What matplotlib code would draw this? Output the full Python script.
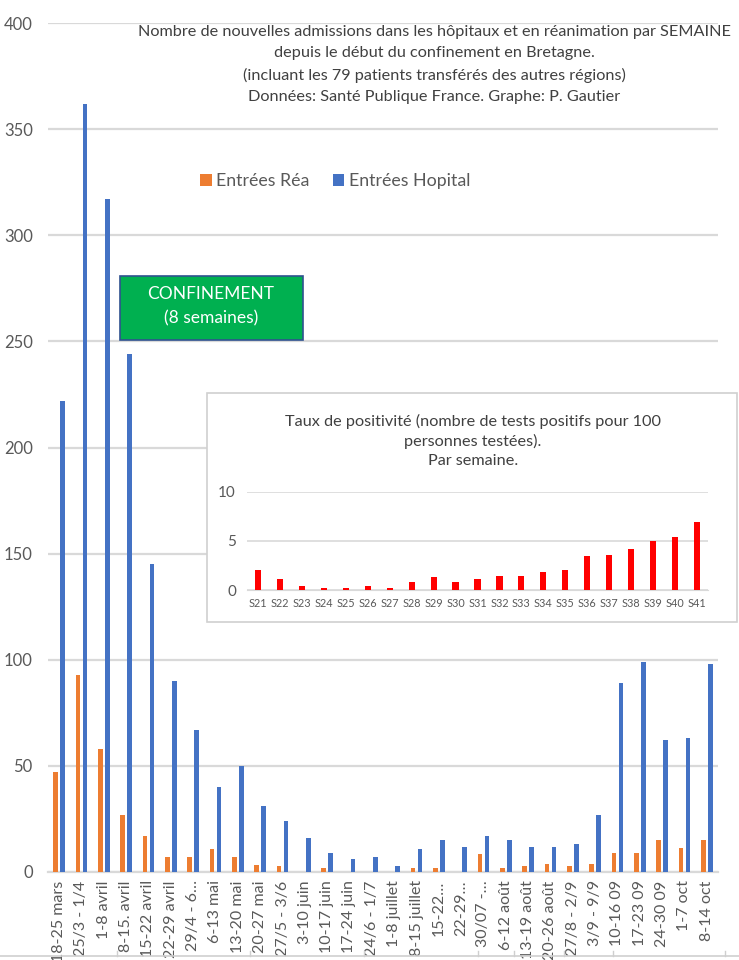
import matplotlib
matplotlib.use("Agg")
import matplotlib.pyplot as plt
import matplotlib.patches as mpatches
import numpy as np

plt.rcParams['font.family'] = ['Lato', 'DejaVu Sans']

# ---------------- data ----------------
weeks = ["18-25 mars", "25/3 - 1/4", "1-8 avril", "8-15. avril", "15-22 avril",
         "22-29 avril", "29/4 - 6…", "6-13 mai", "13-20 mai", "20-27 mai",
         "27/5 - 3/6", "3-10 juin", "10-17 juin", "17-24 juin", "24/6 - 1/7",
         "1-8 juillet", "8-15 juillet", "15-22…", "22-29…", "30/07 -…",
         "6-12 août", "13-19 août", "20-26 août", "27/8 - 2/9", "3/9 - 9/9",
         "10-16 09", "17-23 09", "24-30 09", "1-7 oct", "8-14 oct"]
rea = [47, 93, 58, 27, 17, 7, 7, 11, 7, 3.5,
       2.7, 0, 2, 0, 0, 0, 2, 2, 0, 8.5,
       2, 3, 3.6, 3, 3.6, 9, 9, 15, 11.5, 15]
hopital = [222, 362, 317, 244, 145, 90, 67, 40, 50, 31,
           24, 16, 9, 6, 7, 3, 11, 15, 12, 17,
           15, 12, 12, 13, 27, 89, 99, 62, 63, 98]

sem_labels = ["S21", "S22", "S23", "S24", "S25", "S26", "S27", "S28", "S29", "S30",
              "S31", "S32", "S33", "S34", "S35", "S36", "S37", "S38", "S39", "S40", "S41"]
taux = [2.0, 1.12, 0.4, 0.24, 0.24, 0.4, 0.24, 0.78, 1.29, 0.78,
        1.12, 1.46, 1.46, 1.83, 2.0, 3.42, 3.59, 4.14, 5.02, 5.39, 6.95]

title_lines = ["Nombre de nouvelles admissions dans les hôpitaux et en réanimation par SEMAINE",
               "depuis le début du confinement en Bretagne.",
               "(incluant les 79 patients transférés des autres régions)",
               "Données: Santé Publique France. Graphe: P. Gautier"]
inset_title = "Taux de positivité (nombre de tests positifs pour 100\npersonnes testées).\nPar semaine."

ORANGE = "#ED7D31"
BLUE = "#4472C4"
GRID = "#D9D9D9"
TXT = "#595959"

W, H = 739, 960
fig = plt.figure(figsize=(W / 100, H / 100), dpi=100)

def fx(px):
    return px / W

def fy(py):
    return 1 - py / H

# ---------------- main axes ----------------
ax = fig.add_axes([fx(48), fy(872), fx(718) - fx(48), fy(23) - fy(872)])
x = np.arange(len(weeks))
bw = 0.22
ax.bar(x - 0.155, rea, width=bw, color=ORANGE, label="Entrées Réa", zorder=3)
ax.bar(x + 0.155, hopital, width=bw, color=BLUE, label="Entrées Hopital", zorder=3)
ax.set_xlim(-0.5, len(weeks) - 0.5)
ax.set_ylim(0, 400)
ax.set_yticks([0, 50, 100, 150, 200, 250, 300, 350, 400])
ax.yaxis.grid(True, color=GRID, lw=1.6, zorder=0)
ax.set_axisbelow(True)
for s in ["top", "right", "left"]:
    ax.spines[s].set_visible(False)
ax.spines["bottom"].set_color(GRID)
ax.spines["bottom"].set_linewidth(1.6)
ax.set_xticks(x)
ax.set_xticklabels(weeks, rotation=90, fontsize=11.5, color=TXT)
ax.tick_params(axis="both", length=0, colors=TXT)
ax.tick_params(axis="y", labelsize=12, pad=11)
ax.tick_params(axis="x", pad=6)

# legend
ax.legend(loc="center", bbox_to_anchor=(fx(335), fy(181)), bbox_transform=fig.transFigure,
          ncol=2, frameon=False, fontsize=12.8, handlelength=0.65, handleheight=0.65,
          handletextpad=0.25, columnspacing=1.3, labelcolor=TXT)

# title
for i, line in enumerate(title_lines):
    fig.text(fx(434), fy(32 + i * 21.5), line, ha="center", va="center",
             fontsize=11.7, color="#404040")

# confinement box
fig.patches.append(mpatches.Rectangle((fx(120), fy(340)), fx(303) - fx(120), fy(276) - fy(340),
                                      transform=fig.transFigure, facecolor="#00B050",
                                      edgecolor="#2F528F", lw=1.2, zorder=5))
fig.text(fx(211), fy(294), "CONFINEMENT", ha="center", va="center", color="white",
         fontsize=12.5, zorder=6)
fig.text(fx(211), fy(318), "(8 semaines)", ha="center", va="center", color="white",
         fontsize=12.5, zorder=6)

# inset box
fig.patches.append(mpatches.Rectangle((fx(207), fy(622)), fx(737) - fx(207), fy(393) - fy(622),
                                      transform=fig.transFigure, facecolor="white",
                                      edgecolor="#D0D0D0", lw=1.2, zorder=5))
fig.text(fx(473), fy(441), inset_title, ha="center", va="center", fontsize=11.7,
         color="#404040", linespacing=1.4, zorder=6)

# inset axes
ia = fig.add_axes([fx(247), fy(590), fx(708) - fx(247), fy(492) - fy(590)])
ia.set_zorder(6)
ia.patch.set_alpha(0)
xi = np.arange(len(sem_labels))
ia.bar(xi, taux, width=0.28, color="#FF0000", zorder=3)
ia.set_xlim(-0.5, len(sem_labels) - 0.5)
ia.set_ylim(0, 10)
ia.set_yticks([0, 5, 10])
ia.yaxis.grid(True, color=GRID, lw=1.2, zorder=0)
ia.set_axisbelow(True)
for s in ["top", "right", "left"]:
    ia.spines[s].set_visible(False)
ia.spines["bottom"].set_color(GRID)
ia.set_xticks(xi)
ia.set_xticklabels(sem_labels, fontsize=7.8, color=TXT)
ia.tick_params(axis="both", length=0, colors=TXT)
ia.tick_params(axis="y", labelsize=11, pad=8)
ia.tick_params(axis="x", pad=6)

# bottom faint border line
fig.add_artist(plt.Line2D([0, 1], [fy(956), fy(956)], transform=fig.transFigure,
                          color="#CFCFCF", lw=1.2))
for px in [117, 250, 364, 478, 514, 564, 613, 725]:
    fig.add_artist(plt.Line2D([fx(px), fx(px)], [fy(956), fy(951)], transform=fig.transFigure,
                              color="#CFCFCF", lw=1.0))

fig.savefig("out.png", dpi=100, facecolor="white")
